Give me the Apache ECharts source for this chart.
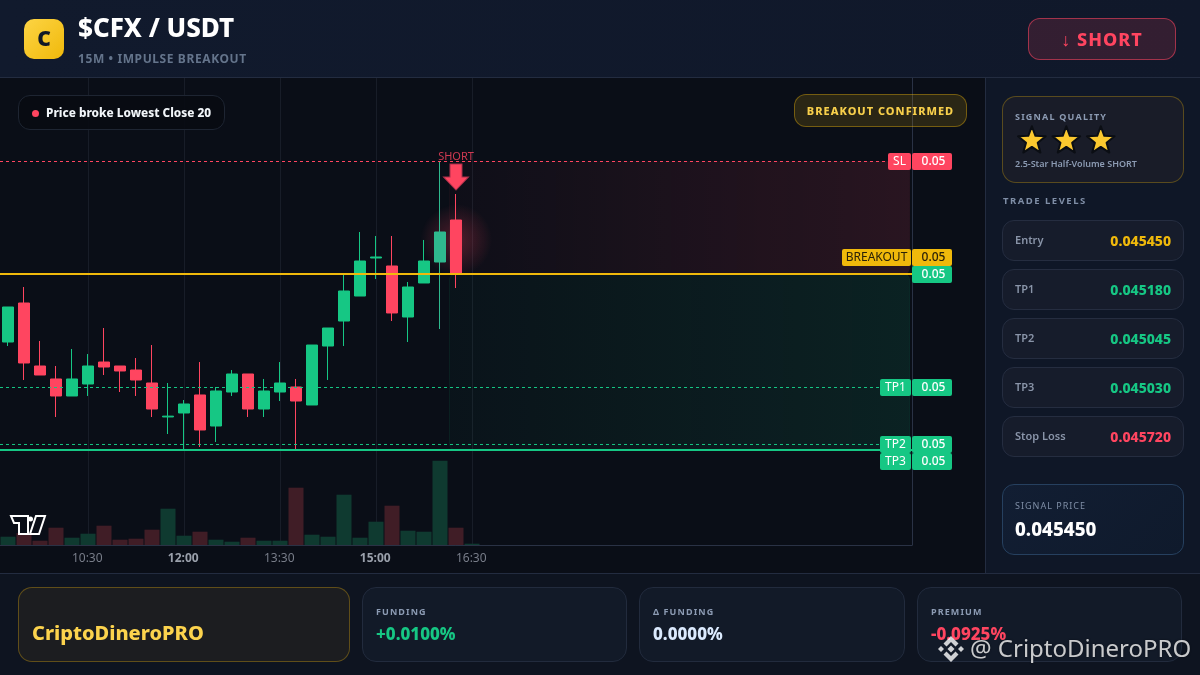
<!DOCTYPE html>
<html><head><meta charset="utf-8">
<style>
*{box-sizing:border-box;margin:0;padding:0}
html,body{width:1200px;height:675px;overflow:hidden;background:#0b0f18;font-family:"Noto Sans",sans-serif}
.a{position:absolute}
#hdr{left:0;top:0;width:1200px;height:78px;background:linear-gradient(90deg,#111a2d,#10182a);border-bottom:1px solid #232c40}
#chartbg{left:0;top:78px;width:985px;height:495px;background:#0a0e17}
#side{left:985px;top:78px;width:215px;height:495px;background:#0f1727;border-left:1px solid #232c40}
#foot{left:0;top:573px;width:1200px;height:102px;background:#0e1420;border-top:1px solid #232c40}
#chart{left:0;top:0;width:1200px;height:675px}
.t{position:absolute;white-space:nowrap;line-height:1}
.box{position:absolute}
.row{position:absolute;left:1002px;width:182px;height:41px;border-radius:12px;border:1px solid #252d40;background:#161c2b}
.row span{position:absolute;top:50%;transform:translateY(-50%);white-space:nowrap;line-height:1}
.row .l{left:12px;top:47%;font-size:11px;color:#8994a8;font-weight:600}
.row .v{right:12px;font-size:14px;font-weight:800}
.fp{position:absolute;top:587px;height:75px;border-radius:14px;border:1px solid #222b3d;background:#121a28}
</style></head><body>
<div class="a" id="chartbg"></div>
<div class="a" id="side"></div>
<div class="a" id="foot"></div>
<div class="a" id="hdr"></div>
<div class="a" id="chart"></div>

<div class="box" style="left:24px;top:19px;width:40px;height:40px;border-radius:10px;background:linear-gradient(135deg,#fdd444,#f0b90b)"></div>
<div class="t" style="left:24px;top:28px;width:40px;text-align:center;font-size:21px;font-weight:900;color:#111827">C</div>
<div class="t" style="left:78px;top:14px;font-size:26px;font-weight:800;color:#fff">$CFX / USDT</div>
<div class="t" style="left:78px;top:53px;font-size:12px;font-weight:700;letter-spacing:.6px;color:#64748b">15M • IMPULSE BREAKOUT</div>
<div class="box" style="left:1028px;top:18px;width:148px;height:42px;border-radius:12px;border:1px solid rgba(255,69,96,.55);background:rgba(255,69,96,.15)"></div>
<div class="t" style="left:1028px;top:30px;width:148px;text-align:center;font-size:18px;font-weight:800;letter-spacing:1px;color:#ff4560">↓ SHORT</div>

<div class="box" style="left:18px;top:95px;width:207px;height:35px;border-radius:12px;border:1px solid #1e2532;background:rgba(8,11,18,.9)"></div>
<div class="box" style="left:32px;top:110px;width:7px;height:7px;border-radius:50%;background:#ff4560"></div>
<div class="t" style="left:46px;top:107px;font-size:11.8px;font-weight:800;color:#f1f5f9">Price broke Lowest Close 20</div>
<div class="box" style="left:794px;top:94px;width:173px;height:33px;border-radius:12px;border:1px solid rgba(240,185,11,.38);background:rgba(240,185,11,.14)"></div>
<div class="t" style="left:794px;top:105px;width:173px;text-align:center;font-size:11px;font-weight:800;letter-spacing:1px;color:#f7cf4b">BREAKOUT CONFIRMED</div>

<svg class="a" style="left:9px;top:514px" width="38" height="22" viewBox="0 0 38 22"><g fill="#0a0e17" stroke="#fff" stroke-width="2"><path d="M2 2H19V20H10V9H5z"/><circle cx="21.5" cy="5" r="2.5" fill="#fff" stroke="none"/><path d="M27 2H36L30 20H21z"/></g></svg>

<!-- sidebar -->
<div class="box" style="left:1002px;top:96px;width:182px;height:87px;border-radius:14px;border:1px solid rgba(240,185,11,.3);background:#191c28"></div>
<div class="t" style="left:1015px;top:112px;font-size:9px;font-weight:700;letter-spacing:1.2px;color:#8c9bb3">SIGNAL QUALITY</div>
<svg class="a" style="left:1015px;top:124px" width="112" height="34" viewBox="0 0 100 30.4"><defs><polygon id="st" points="15,2 18.2,10.55 27.36,10.98 20.23,16.7 22.64,25.52 15,20.5 7.36,25.52 9.77,16.7 2.64,10.98 11.8,10.55"/></defs><g fill="#fcc92f" stroke="#0b0e14" stroke-width="1.8" stroke-linejoin="round"><use href="#st"/><use href="#st" x="30.8"/><use href="#st" x="61.6"/></g></svg>
<div class="t" style="left:1015px;top:159px;font-size:9px;font-weight:600;color:#8c9bb3">2.5-Star Half-Volume SHORT</div>
<div class="t" style="left:1003px;top:196px;font-size:9.5px;font-weight:700;letter-spacing:1.5px;color:#7f8ea6">TRADE LEVELS</div>
<div class="row" style="top:220px"><span class="l">Entry</span><span class="v" style="color:#f0b90b">0.045450</span></div>
<div class="row" style="top:269px"><span class="l">TP1</span><span class="v" style="color:#16c784">0.045180</span></div>
<div class="row" style="top:318px"><span class="l">TP2</span><span class="v" style="color:#16c784">0.045045</span></div>
<div class="row" style="top:367px"><span class="l">TP3</span><span class="v" style="color:#16c784">0.045030</span></div>
<div class="row" style="top:416px"><span class="l">Stop Loss</span><span class="v" style="color:#ff4560">0.045720</span></div>
<div class="box" style="left:1002px;top:484px;width:182px;height:71px;border-radius:12px;border:1px solid #26405f;background:linear-gradient(135deg,#121e33,#0f1a2c)"></div>
<div class="t" style="left:1015px;top:501px;font-size:9px;letter-spacing:1px;color:#7f8ea6">SIGNAL PRICE</div>
<div class="t" style="left:1015px;top:520px;font-size:18.8px;font-weight:800;color:#fff">0.045450</div>

<!-- footer -->
<div class="fp" style="left:18px;width:332px;border-color:rgba(240,185,11,.32);background:#1c1d20"></div>
<div class="t" style="left:32px;top:623px;font-size:20px;font-weight:800;color:#fcd34d">CriptoDineroPRO</div>
<div class="fp" style="left:362px;width:265px"></div>
<div class="t" style="left:376px;top:607px;font-size:9px;font-weight:700;letter-spacing:1.1px;color:#8c9bb3">FUNDING</div>
<div class="t" style="left:376px;top:625px;font-size:17px;font-weight:800;color:#16c784">+0.0100%</div>
<div class="fp" style="left:639px;width:266px"></div>
<div class="t" style="left:653px;top:607px;font-size:9px;font-weight:700;letter-spacing:1.1px;color:#8c9bb3">Δ FUNDING</div>
<div class="t" style="left:653px;top:625px;font-size:17px;font-weight:800;color:#dbeafe">0.0000%</div>
<div class="fp" style="left:917px;width:265px"></div>
<div class="t" style="left:931px;top:607px;font-size:9px;font-weight:700;letter-spacing:1.1px;color:#8c9bb3">PREMIUM</div>
<div class="t" style="left:931px;top:625px;font-size:17px;font-weight:800;color:#ff4560">-0.0925%</div>

<svg class="a" style="left:937px;top:635px" width="28" height="28" viewBox="0 0 28 28"><g fill="rgba(255,255,255,.8)"><polygon points="14,1 21.5,8.5 18.5,11.5 14,7 9.5,11.5 6.5,8.5"/><polygon points="14,27 21.5,19.5 18.5,16.5 14,21 9.5,16.5 6.5,19.5"/><polygon points="1,14 4,11 7,14 4,17"/><polygon points="27,14 24,11 21,14 24,17"/><polygon points="14,10.5 17.5,14 14,17.5 10.5,14"/></g></svg>
<div class="t" style="left:970px;top:636px;font-size:24px;color:rgba(255,255,255,.78);text-shadow:0 0 2px rgba(0,0,0,.5)">@ CriptoDineroPRO</div>

<script src="https://cdn.jsdelivr.net/npm/echarts@6/dist/echarts.min.js"></script>
<script>
const categories=["09:15","09:30","09:45","10:00","10:15","10:30","10:45","11:00","11:15","11:30","11:45","12:00","12:15","12:30","12:45","13:00","13:15","13:30","13:45","14:00","14:15","14:30","14:45","15:00","15:15","15:30","15:45","16:00","16:15","16:30","16:45","17:00","17:15","17:30","17:45","18:00","18:15","18:30","18:45","19:00","19:15","19:30","19:45","20:00","20:15","20:30","20:45","21:00","21:15","21:30","21:45","22:00","22:15","22:30","22:45","23:00","23:15"];
const tickLabels=["10:30","12:00","13:30","15:00","16:30"];
const boldTicks=["12:00","15:00"];
const opens =[0.0452890,0.0453821,0.0452317,0.0452007,0.0451601,0.0451887,0.0452412,0.0452317,0.0452221,0.0451911,0.0451100,0.0451195,0.0451625,0.0450884,0.0451696,0.0452126,0.0451290,0.0451696,0.0451816,0.0451386,0.0452794,0.0453391,0.0453988,0.0454896,0.0454705,0.0453487,0.0454299,0.0454800,0.0455803];
const closes=[0.0453726,0.0452389,0.0452102,0.0451601,0.0452007,0.0452317,0.0452293,0.0452198,0.0451983,0.0451290,0.0451120,0.0451410,0.0450789,0.0451720,0.0452126,0.0451290,0.0451720,0.0451911,0.0451481,0.0452818,0.0453224,0.0454108,0.0454824,0.0454920,0.0453583,0.0454203,0.0454824,0.0455517,0.0454514];
const lows  =[0.0452794,0.0451983,0.0452102,0.0451099,0.0451601,0.0451601,0.0452102,0.0451696,0.0451601,0.0451099,0.0450693,0.0450335,0.0450383,0.0450502,0.0451601,0.0451099,0.0451099,0.0451481,0.0450335,0.0451386,0.0451983,0.0452794,0.0453988,0.0454394,0.0453391,0.0452890,0.0454299,0.0453200,0.0454179];
const highs =[0.0453726,0.0454203,0.0452914,0.0452317,0.0452723,0.0452603,0.0453224,0.0452317,0.0452508,0.0452818,0.0451911,0.0451505,0.0452412,0.0451816,0.0452221,0.0452126,0.0452007,0.0452412,0.0452007,0.0452818,0.0453224,0.0454514,0.0455517,0.0455421,0.0455421,0.0454323,0.0455326,0.0457212,0.0456424];
const volumes=[8.3,12,4.3,17.3,7.3,11.3,19.3,5.3,6.3,15.3,36.3,9.3,13.3,5.3,3.3,7.3,4.3,4.3,57.3,10.3,8.3,50.3,7.3,23.3,39.3,14.3,13.3,84.3,17.3,1.3];
const volumeUp=[1,0,0,0,1,1,0,0,0,0,1,1,0,1,1,0,1,1,0,1,1,1,1,1,0,1,1,1,0,1];
const levelNames=["SL","BREAKOUT","","TP1","TP2","TP3"];
const levelPrices=[0.045720,0.0454514,0.0454514,0.0451804,0.0450443,0.0450311];
const levelText=["0.05","0.05","0.05","0.05","0.05","0.05"];
const signalIndex=28, signalPrice=0.0456830, glowPrice=0.0455326, signalLabel="SHORT";
const riskZone=[0.045720,0.0454514], rewardZone=[0.0454514,0.0450311];
const priceMin=0.04480429, priceMax=0.04591938;

const green='#16c784', red='#ff4560', gold='#f0b90b';
const tagColor=[red,gold,green,green,green,green];
const tagInk=['#fff','#2a2108','#fff','#fff','#fff','#fff'];
const tagOffset=[0,-16.5,0.5,0,0,11.5];
const tagNameWidth=[23,69,0,31,31,31];
const tickShown=i=>tickLabels.indexOf(categories[i])>=0;

const candleData=opens.map((o,i)=>{
  const base=[o,closes[i],lows[i],highs[i]];
  return i===27?{value:base,itemStyle:{color:'#2fb98e',color0:'#2fb98e',borderColor:'#2fb98e',borderColor0:'#2fb98e'}}:base;
});
const volData=volumes.map((v,i)=>({value:v,itemStyle:{color:volumeUp[i]?'#0f3a30':'#401d26'}}));

function zone(prices,c0,c1,bc){
  return {type:'custom',xAxisIndex:2,yAxisIndex:0,z:1,silent:true,coordinateSystem:'cartesian2d',
    data:[[28.1,prices[0],56.85,prices[1]]],
    renderItem:(p,api)=>{
      const a=api.coord([api.value(0),api.value(1)]),b=api.coord([api.value(2),api.value(3)]);
      return {type:'rect',shape:{x:a[0],y:a[1],width:b[0]-a[0],height:b[1]-a[1],r:6},
        style:{fill:new echarts.graphic.LinearGradient(0,0,1,0,[{offset:0,color:c0},{offset:1,color:c1}]),stroke:bc,lineWidth:1}};
    }};
}
function level(price,color,width,dash){
  return {type:'line',xAxisIndex:2,yAxisIndex:0,z:3,silent:true,showSymbol:false,animation:false,
    data:[[0,price],[57,price]],lineStyle:{color:color,width:width,type:dash?[3,3]:'solid'}};
}
const chart=echarts.init(document.getElementById('chart'),null,{renderer:'canvas'});
chart.setOption({
  animation:false,backgroundColor:'transparent',
  grid:[{left:-0.67,top:78,width:912.67,height:467},{left:-0.67,top:445,width:912.67,height:100}],
  xAxis:[
    {type:'category',gridIndex:0,data:categories,axisLine:{show:false},axisTick:{show:false},axisLabel:{show:false},splitLine:{show:false}},
    {type:'category',gridIndex:1,data:categories,axisLine:{show:true,lineStyle:{color:'#2a3245'}},axisTick:{show:false},
     splitLine:{show:false},
     axisLabel:{interval:(i)=>tickShown(i),margin:8,color:'#787d89',fontFamily:'Noto Sans',fontSize:12,padding:[0,1.5,0,0],
       formatter:(v)=>boldTicks.indexOf(v)>=0?'{b|'+v+'}':v,
       rich:{b:{fontWeight:700,color:'#9aa0ab',fontSize:12,fontFamily:'Noto Sans'}}}},
    {type:'value',gridIndex:0,min:0,max:57,show:false}
  ],
  yAxis:[
    {type:'value',gridIndex:0,min:priceMin,max:priceMax,position:'right',splitLine:{show:false},axisTick:{show:false},axisLabel:{show:false},
     axisLine:{show:true,onZero:false,lineStyle:{color:'#2a3245'}}},
    {type:'value',gridIndex:1,min:0,max:100,show:false,splitLine:{show:false}}
  ],
  series:[
    {type:'custom',xAxisIndex:0,yAxisIndex:0,z:0,silent:true,
     data:tickLabels.map(t=>[t]),
     renderItem:(p,api)=>{
       const top=api.coord([api.value(0),priceMax]),bot=api.coord([api.value(0),priceMin]);
       const x=Math.floor(top[0])+0.5;
       return {type:'line',shape:{x1:x,y1:top[1],x2:x,y2:bot[1]},style:{stroke:'#181d28',lineWidth:1}};
     }},
    zone(riskZone,'rgba(255,69,96,0.02)','rgba(255,69,96,0.13)','rgba(255,69,96,0.05)'),
    zone(rewardZone,'rgba(22,199,132,0.03)','rgba(22,199,132,0.11)','rgba(22,199,132,0.10)'),
    {type:'scatter',xAxisIndex:0,yAxisIndex:0,z:1,silent:true,symbol:'circle',symbolSize:72,
     data:[[signalIndex,glowPrice]],
     itemStyle:{opacity:1,color:new echarts.graphic.RadialGradient(0.5,0.5,0.5,[{offset:0,color:'rgba(255,69,96,0.28)'},{offset:0.6,color:'rgba(255,69,96,0.12)'},{offset:1,color:'rgba(255,69,96,0)'}])}},
    {type:'bar',xAxisIndex:1,yAxisIndex:1,z:1,barWidth:15,data:volData,silent:true},
    {type:'candlestick',xAxisIndex:0,yAxisIndex:0,z:2,barWidth:11,silent:true,data:candleData,
     itemStyle:{color:green,color0:red,borderColor:green,borderColor0:red,borderWidth:1}},
    level(levelPrices[0],red,1,true),
    level(levelPrices[1],gold,2,false),
    level(levelPrices[3],green,1,true),
    level(levelPrices[4],green,1,true),
    level(levelPrices[5],green,2,false),
    {type:'scatter',xAxisIndex:0,yAxisIndex:0,z:6,silent:true,
     symbol:'path://M6.5 0H18.5V13H25L12.5 26L0 13H6.5Z',symbolSize:[25,26],
     data:[[signalIndex,signalPrice]],
     itemStyle:{opacity:1,color:red,borderColor:'#a8304a',borderWidth:1},
     label:{show:true,position:'top',distance:1,formatter:signalLabel,color:'rgba(255,69,96,0.8)',fontSize:11,fontFamily:'Noto Sans'}},
    {type:'custom',xAxisIndex:2,yAxisIndex:0,z:7,silent:true,clip:false,
     data:levelPrices.map((p,i)=>[57,p,i]),
     renderItem:(params,api)=>{
       const i=api.value(2),c=api.coord([api.value(0),api.value(1)]);
       const cy=Math.floor(c[1]+tagOffset[i])+0.5, x=912, h=17;
       const kids=[
         {type:'rect',shape:{x:x,y:cy-h/2,width:40,height:h,r:2},style:{fill:tagColor[i]}},
         {type:'text',style:{text:levelText[i],x:x+21.5,y:cy,align:'center',verticalAlign:'middle',fill:tagInk[i],fontSize:12,fontWeight:500,fontFamily:'Noto Sans'}}
       ];
       if(levelNames[i]){
         const w=tagNameWidth[i];
         kids.push({type:'rect',shape:{x:x-1-w,y:cy-h/2,width:w,height:h,r:2},style:{fill:tagColor[i]}});
         kids.push({type:'text',style:{text:levelNames[i],x:x-1-w/2,y:cy,align:'center',verticalAlign:'middle',fill:tagInk[i],fontSize:12,fontFamily:'Noto Sans'}});
       }
       return {type:'group',children:kids};
     }}
  ]
});
</script>
</body></html>
